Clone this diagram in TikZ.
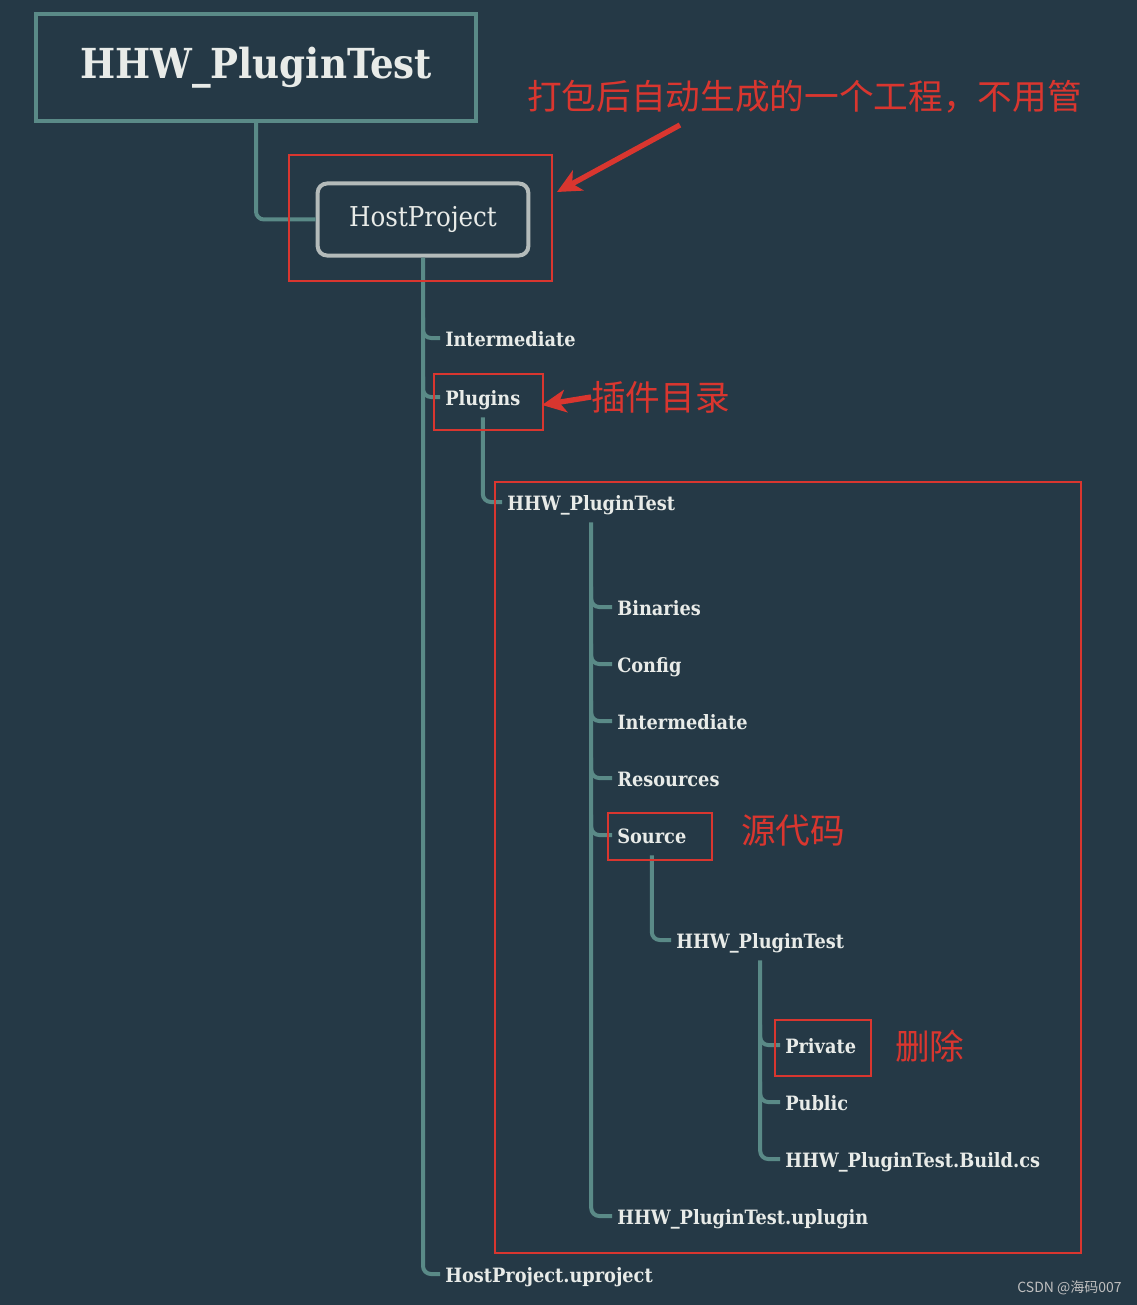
\documentclass[tikz,border=0pt]{standalone}
\usepackage{fontspec}
\setmainfont{DejaVu Serif Condensed}
\newfontfamily\cjk{Noto Sans CJK SC}
\usetikzlibrary{arrows.meta}
\definecolor{bgblue}{RGB}{37,57,70}
\definecolor{branch}{RGB}{90,138,135}
\definecolor{label}{RGB}{232,235,232}
\definecolor{hostgray}{RGB}{180,187,186}
\definecolor{markred}{RGB}{217,54,47}

\begin{document}
\begin{tikzpicture}[x=0.75pt, y=-0.75pt,
	link/.style={line width=3pt, color=branch, rounded corners=6pt},
	leaf/.style={anchor=west, inner xsep=3.75pt, inner ysep=0pt, text height=21pt, text depth=9pt, text=label, font=\bfseries\fontsize{14.8}{18}\selectfont},
	markbox/.style={line width=2pt, color=markred},
	note/.style={anchor=west, inner sep=0pt, text=markred, font=\cjk\fontsize{26}{30}\selectfont},
	redarrow/.style={line width=4pt, color=markred, -{Stealth[length=18pt, width=17pt, inset=5pt]}}]
			%%%%% START %%%%%
			
			\fill[bgblue] (0, 0) rectangle (1137, 1305);
			\useasboundingbox (0, 0) rectangle (1137, 1305);
			
			\node[draw=branch, line width=3pt, minimum width=330pt, minimum height=80pt, text=label, font=\bfseries\fontsize{31}{36}\selectfont] (root) at (256, 67.5) {HHW\_PluginTest};
			\node[draw=hostgray, line width=3pt, rounded corners=7pt, minimum width=158pt, minimum height=54pt, text=label, font=\fontsize{20.5}{24}\selectfont] (host) at (423, 219.5) {HostProject};
			
			\draw[link] (root.south) |- (host.west);
			
			\node[leaf] (inter) at (440, 338) {Intermediate};
			\node[leaf] (plg) at (440, 397) {Plugins};
			\node[leaf] (uproj) at (440, 1274) {HostProject.uproject};
			
			\draw[link] (host.south) |- (uproj.west);
			\draw[link] (host.south |- inter.north) |- (inter.west);
			\draw[link] (host.south |- plg.north) |- (plg.west);
			
			\node[leaf] (plugdir) at (502, 502) {HHW\_PluginTest};
			\draw[link] (plg.south) |- (plugdir.west);
			
			\node[leaf] (bin) at (612, 607) {Binaries};
			\node[leaf] (cfg) at (612, 664) {Config};
			\node[leaf] (pinter) at (612, 721) {Intermediate};
			\node[leaf] (res) at (612, 778) {Resources};
			\node[leaf] (src) at (612, 835) {Source};
			\node[leaf] (uplug) at (612, 1216) {HHW\_PluginTest.uplugin};
			
			\draw[link] (plugdir.south) |- (uplug.west);
			\foreach \n in {bin, cfg, pinter, res, src}
				\draw[link] (plugdir.south |- \n.north) |- (\n.west);
			
			\node[leaf] (srcdir) at (671, 940) {HHW\_PluginTest};
			\draw[link] (src.south) |- (srcdir.west);
			
			\node[leaf] (priv) at (780, 1045) {Private};
			\node[leaf] (pub) at (780, 1102) {Public};
			\node[leaf] (build) at (780, 1159) {HHW\_PluginTest.Build.cs};
			
			\draw[link] (srcdir.south) |- (build.west);
			\foreach \n in {priv, pub}
				\draw[link] (srcdir.south |- \n.north) |- (\n.west);
			
			% red marks
			\draw[markbox] (289, 155) rectangle (552, 281);
			\draw[markbox] (434, 374) rectangle (543, 430);
			\draw[markbox] (495, 482) rectangle (1081, 1253);
			\draw[markbox] (608, 813) rectangle (712, 860);
			\draw[markbox] (775, 1020) rectangle (871, 1076);
			
			\node[note] (note1) at (527, 97) {打包后自动生成的一个工程，不用管};
			\node[note] (note2) at (591, 397) {插件目录};
			\node[note] (note3) at (741, 831) {源代码};
			\node[note] (note4) at (895, 1046) {删除};
			
			\coordinate (tail1) at (680, 125);
			\coordinate (head1) at (557, 192);
			\coordinate (head2) at (542, 405);
			\draw[redarrow] (tail1) -- (head1);
			\draw[redarrow] (note2.west) -- (head2);
			
			\node[anchor=east, inner sep=0pt, text=black!25, font=\cjk\fontsize{10.5}{12}\selectfont] (mark) at (1122, 1288) {CSDN @海码007};
			
			%%%%% END %%%%%
\end{tikzpicture}
\end{document}
